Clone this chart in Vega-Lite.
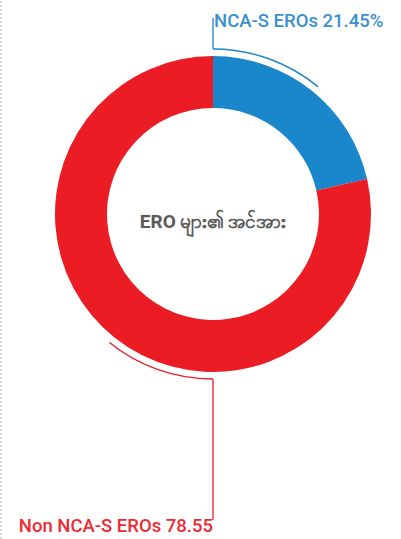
{
  "$schema": "https://vega.github.io/schema/vega-lite/v6.json",
  "width": 401,
  "height": 539,
  "autosize": {"type": "none"},
  "padding": 0,
  "background": "#ffffff",
  "config": {"view": {"stroke": null}},
  "datasets": {
    "shares": [
      {"group": "NCA-S EROs", "value": 21.45, "ord": 1},
      {"group": "Non NCA-S EROs", "value": 78.55, "ord": 2}
    ],
    "leaders": [
      {"group": "NCA-S EROs", "a0": 0, "a1": 11},
      {"group": "Non NCA-S EROs", "a0": 50, "a1": 60.8}
    ],
    "center": [{"label": "ERO များ၏ အင်အား"}],
    "labels": [
      {"group": "NCA-S EROs", "label": "NCA-S EROs 21.45%"},
      {"group": "Non NCA-S EROs", "label": "Non NCA-S EROs 78.55"}
    ]
  },
  "layer": [
    {
      "data": {"values": [{"k": 1}]},
      "mark": {"type": "rule", "strokeDash": [2, 2], "stroke": "#aaaaaa", "strokeWidth": 1},
      "encoding": {
        "x": {"datum": -212, "type": "quantitative", "scale": {"domain": [-213, 188], "nice": false, "zero": false}, "axis": null},
        "y": {"datum": -325, "type": "quantitative", "scale": {"domain": [-325, 214], "nice": false, "zero": false}, "axis": null},
        "y2": {"datum": 214}
      }
    },
    {
      "data": {"name": "shares"},
      "mark": {"type": "arc", "radius": 158, "innerRadius": 106},
      "encoding": {
        "x": {"datum": 0, "type": "quantitative"},
        "y": {"datum": 0, "type": "quantitative"},
        "theta": {"field": "value", "type": "quantitative", "stack": true, "scale": {"domain": [0, 100]}},
        "order": {"field": "ord"},
        "color": {"field": "group", "type": "nominal", "legend": null,
          "scale": {"domain": ["NCA-S EROs", "Non NCA-S EROs"], "range": ["#1a86cb", "#ec1c24"]}}
      }
    },
    {
      "data": {"name": "leaders"},
      "mark": {"type": "arc", "radius": 165.7, "innerRadius": 164.3},
      "encoding": {
        "x": {"datum": 0, "type": "quantitative"},
        "y": {"datum": 0, "type": "quantitative"},
        "theta": {"field": "a0", "type": "quantitative", "stack": false},
        "theta2": {"field": "a1"},
        "color": {"field": "group", "type": "nominal", "legend": null}
      }
    },
    {
      "data": {"values": [{"group": "NCA-S EROs"}]},
      "mark": {"type": "rule", "strokeWidth": 1.3},
      "encoding": {
        "x": {"datum": 0, "type": "quantitative"},
        "y": {"datum": 165, "type": "quantitative"},
        "y2": {"datum": 196},
        "color": {"field": "group", "type": "nominal", "legend": null}
      }
    },
    {
      "data": {"values": [{"group": "Non NCA-S EROs"}]},
      "mark": {"type": "rule", "strokeWidth": 1.3},
      "encoding": {
        "x": {"datum": 0, "type": "quantitative"},
        "y": {"datum": -165, "type": "quantitative"},
        "y2": {"datum": -306},
        "color": {"field": "group", "type": "nominal", "legend": null}
      }
    },
    {
      "data": {"name": "labels"},
      "transform": [{"filter": "datum.group == 'NCA-S EROs'"}],
      "mark": {"type": "text", "align": "left", "baseline": "alphabetic", "font": "Roboto", "fontSize": 18.5, "fontWeight": 500, "dx": 1},
      "encoding": {
        "x": {"datum": 0, "type": "quantitative"},
        "y": {"datum": 187, "type": "quantitative"},
        "text": {"field": "label"},
        "color": {"value": "#3a8fd0"}
      }
    },
    {
      "data": {"name": "labels"},
      "transform": [{"filter": "datum.group == 'Non NCA-S EROs'"}],
      "mark": {"type": "text", "align": "right", "baseline": "alphabetic", "font": "Roboto", "fontSize": 18.5, "fontWeight": 500},
      "encoding": {
        "x": {"datum": 0, "type": "quantitative"},
        "y": {"datum": -318, "type": "quantitative"},
        "text": {"field": "label"},
        "color": {"value": "#ee2a33"}
      }
    },
    {
      "data": {"name": "center"},
      "mark": {"type": "text", "align": "center", "baseline": "middle", "font": "Roboto", "fontSize": 19, "fontWeight": "bold", "dy": 8},
      "encoding": {
        "x": {"datum": 0, "type": "quantitative"},
        "y": {"datum": 0, "type": "quantitative"},
        "text": {"field": "label"},
        "color": {"value": "#5a5a5a"}
      }
    }
  ]
}
